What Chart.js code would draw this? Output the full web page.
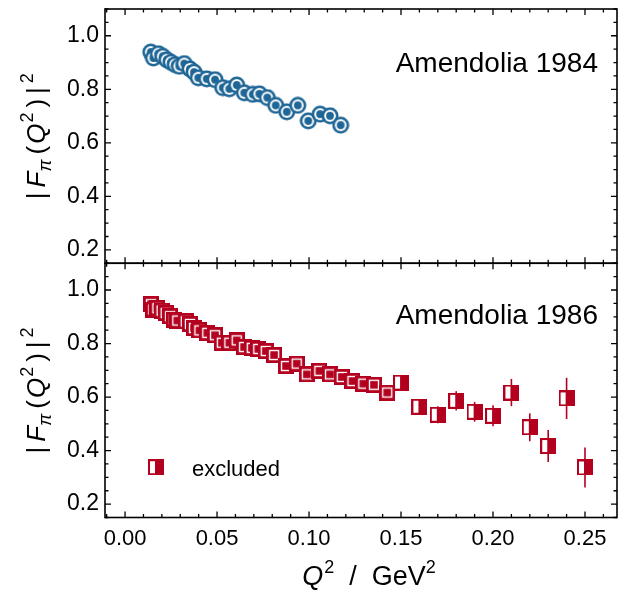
<!DOCTYPE html>
<html>
<head>
<meta charset="utf-8">
<script src="https://cdn.jsdelivr.net/npm/chart.js@4.4.1/dist/chart.umd.min.js"></script>
<style>
  html, body { margin: 0; padding: 0; background: #fff; }
  #chart { display: block; }
</style>
</head>
<body>
<canvas id="chart" width="632" height="597"></canvas>
<script>
// Amendolia 1984 (top panel)
const Q2_1984 = [0.0140, 0.0154, 0.0181, 0.0205, 0.0227, 0.0250, 0.0272, 0.0295, 0.0322, 0.0353,
                 0.0375, 0.0398, 0.0444, 0.0489, 0.0531, 0.0567, 0.0607, 0.0648, 0.0694, 0.0730,
                 0.0773, 0.0819, 0.0879, 0.0939, 0.0996, 0.1060, 0.1114, 0.1172];
const FF_1984 = [0.939, 0.917, 0.933, 0.923, 0.910, 0.901, 0.892, 0.886, 0.896, 0.876,
                 0.864, 0.843, 0.839, 0.836, 0.806, 0.802, 0.816, 0.787, 0.781, 0.783,
                 0.769, 0.740, 0.716, 0.740, 0.682, 0.707, 0.701, 0.666];

// Amendolia 1986 (bottom panel), points used in the fit
const Q2_1986 = [0.0141, 0.0154, 0.0176, 0.0199, 0.0221, 0.0245, 0.0266, 0.0284, 0.0330, 0.0353,
                 0.0375, 0.0404, 0.0447, 0.0489, 0.0526, 0.0567, 0.0607, 0.0647, 0.0689, 0.0724,
                 0.0765, 0.0810, 0.0875, 0.0933, 0.0988, 0.1056, 0.1114, 0.1178, 0.1236, 0.1295,
                 0.1353, 0.1425];
const FF_1986 = [0.947, 0.927, 0.932, 0.923, 0.914, 0.902, 0.889, 0.886, 0.883, 0.873,
                 0.858, 0.849, 0.840, 0.831, 0.803, 0.803, 0.812, 0.787, 0.784, 0.780,
                 0.772, 0.757, 0.716, 0.725, 0.685, 0.698, 0.685, 0.675, 0.660, 0.650,
                 0.646, 0.617];

// Amendolia 1986, excluded points with their errors
const Q2_EXCL  = [0.15, 0.16, 0.17, 0.18, 0.19, 0.20, 0.21, 0.22, 0.23, 0.24, 0.25];
const FF_EXCL  = [0.654, 0.564, 0.534, 0.586, 0.545, 0.530, 0.617, 0.487, 0.417, 0.595, 0.337];
const ERR_EXCL = [0.020, 0.024, 0.032, 0.036, 0.037, 0.039, 0.051, 0.052, 0.060, 0.077, 0.075];

const X_TICKS = [0, 0.05, 0.10, 0.15, 0.20, 0.25];
const Y_TICKS = [0.2, 0.4, 0.6, 0.8, 1.0];
const LABEL_TOP = 'Amendolia 1984';
const LABEL_BOT = 'Amendolia 1986';
const LABEL_EXCL = 'excluded';

const BLUE = '#1f6696';
const RED  = '#b3001e';
const FONT = '"Liberation Sans", Arial, Helvetica, sans-serif';

function makeMarker(size, draw) {
  const c = document.createElement('canvas');
  c.width = c.height = size;
  draw(c.getContext('2d'), size);
  return c;
}

// circle: blue ring, white ring, blue dot
const circleMarker = makeMarker(18, (g, s) => {
  const c = s / 2;
  [[8.5, BLUE], [5.9, '#fff'], [3.9, BLUE]].forEach(([r, col]) => {
    g.beginPath(); g.arc(c, c, r, 0, Math.PI * 2); g.fillStyle = col; g.fill();
  });
});

// square: red frame, thin white gap, red core
const squareMarker = makeMarker(16, (g) => {
  g.fillStyle = RED;  g.fillRect(0, 0, 16, 16);
  g.fillStyle = '#fff'; g.fillRect(2.8, 2.8, 10.4, 10.4);
  g.fillStyle = RED;  g.fillRect(4.2, 4.2, 7.6, 7.6);
});

// half-filled square for excluded points
const halfMarker = makeMarker(16, (g) => {
  g.fillStyle = RED;  g.fillRect(0, 0, 16, 16);
  g.fillStyle = '#fff'; g.fillRect(2, 2, 5, 12);
});

const toPts = (xs, ys) => xs.map((x, i) => ({ x, y: ys[i] }));

function drawParts(ctx, parts, cx, cy, rotate) {
  ctx.save();
  ctx.translate(cx, cy);
  if (rotate) ctx.rotate(-Math.PI / 2);
  let total = 0;
  parts.forEach(p => { ctx.font = p.font; p.w = ctx.measureText(p.t).width; total += p.w + (p.gap || 0); });
  let x = -total / 2;
  ctx.textAlign = 'left';
  ctx.textBaseline = 'alphabetic';
  ctx.fillStyle = '#000';
  parts.forEach(p => { ctx.font = p.font; ctx.fillText(p.t, x, p.dy || 0); x += p.w + (p.gap || 0); });
  ctx.restore();
}

const yTitle = [
  { t: '|', font: `26px ${FONT}`, gap: 5 },
  { t: 'F', font: `italic 26px ${FONT}`, gap: 0 },
  { t: 'π', font: `italic 18px ${FONT}`, dy: 6, gap: 5 },
  { t: '(', font: `26px ${FONT}`, gap: 2 },
  { t: 'Q', font: `italic 26px ${FONT}`, gap: 1 },
  { t: '2', font: `18px ${FONT}`, dy: -12, gap: 5 },
  { t: ')', font: `26px ${FONT}`, gap: 5 },
  { t: '|', font: `26px ${FONT}`, gap: 4 },
  { t: '2', font: `18px ${FONT}`, dy: -12 },
];

const xTitle = [
  { t: 'Q', font: `italic 27px ${FONT}`, gap: 1 },
  { t: '2', font: `18px ${FONT}`, dy: -12, gap: 0 },
  { t: '  /  GeV', font: `27px ${FONT}`, gap: 0 },
  { t: '2', font: `18px ${FONT}`, dy: -12 },
];

const framePlugin = {
  id: 'frame',
  beforeDatasetsDraw(chart) {
    const { ctx } = chart;
    const xs = chart.scales.x, ys = chart.scales.yBot;
    ctx.save();
    ctx.strokeStyle = RED;
    ctx.lineWidth = 1.6;
    Q2_EXCL.forEach((q, i) => {
      const px = xs.getPixelForValue(q);
      ctx.beginPath();
      ctx.moveTo(px, ys.getPixelForValue(FF_EXCL[i] - ERR_EXCL[i]));
      ctx.lineTo(px, ys.getPixelForValue(FF_EXCL[i] + ERR_EXCL[i]));
      ctx.stroke();
    });
    ctx.restore();
  },
  afterDraw(chart) {
    const { ctx, chartArea: a } = chart;
    const xs = chart.scales.x;
    ctx.save();
    ctx.strokeStyle = '#000';
    ['yTop', 'yBot'].forEach(id => {
      const ys = chart.scales[id];
      const top = ys.top, bot = ys.bottom;
      ctx.lineWidth = 1.3;
      // x ticks (major every 0.05, minor every 0.01), inward on both edges
      for (let k = -1; k <= 27; k++) {
        const v = k / 100;
        if (v < xs.min || v > xs.max) continue;
        const px = xs.getPixelForValue(v);
        const len = k % 5 === 0 ? 6 : 3.5;
        ctx.beginPath();
        ctx.moveTo(px, bot); ctx.lineTo(px, bot - len);
        ctx.moveTo(px, top); ctx.lineTo(px, top + len);
        ctx.stroke();
      }
      // y ticks (major every 0.2, minor every 0.05)
      for (let k = 3; k <= 22; k++) {
        const v = k / 20;
        if (v < ys.min || v > ys.max) continue;
        const py = ys.getPixelForValue(v);
        const len = k % 4 === 0 ? 6 : 3.5;
        ctx.beginPath();
        ctx.moveTo(a.left, py); ctx.lineTo(a.left + len, py);
        ctx.moveTo(a.right, py); ctx.lineTo(a.right - len, py);
        ctx.stroke();
      }
      ctx.lineWidth = 1.6;
      ctx.strokeRect(a.left, top, a.right - a.left, bot - top);
      drawParts(ctx, yTitle, 45, (top + bot) / 2, true);
    });

    // panel labels
    ctx.fillStyle = '#000';
    ctx.textAlign = 'right';
    ctx.textBaseline = 'alphabetic';
    ctx.font = `28px ${FONT}`;
    ctx.fillText(LABEL_TOP, a.right - 19, chart.scales.yTop.top + 63);
    ctx.fillText(LABEL_BOT, a.right - 19, chart.scales.yBot.top + 61);

    // legend for excluded points
    const ys = chart.scales.yBot;
    ctx.drawImage(halfMarker, 148, ys.top + 196);
    ctx.textAlign = 'left';
    ctx.font = `22px ${FONT}`;
    ctx.fillText(LABEL_EXCL, 192, ys.top + 213);

    drawParts(ctx, xTitle, 369, 585, false);
    ctx.restore();
  }
};

const yScale = () => ({
  type: 'linear',
  position: 'left',
  stack: 'panels',
  stackWeight: 1,
  min: 0.15,
  max: 1.1,
  afterFit: s => { s.width = 105; s.paddingTop = 0; s.paddingBottom = 0; },
  afterBuildTicks: s => { s.ticks = Y_TICKS.map(v => ({ value: v })); },
  grid: { display: false, drawTicks: false },
  border: { display: false },
  ticks: {
    color: '#000',
    padding: 6,
    font: { family: FONT, size: 23 },
    callback: v => v.toFixed(1),
  },
});

new Chart(document.getElementById('chart'), {
  type: 'scatter',
  data: {
    datasets: [
      { label: LABEL_TOP, data: toPts(Q2_1984, FF_1984), yAxisID: 'yTop',
        pointStyle: circleMarker, pointRadius: 8 },
      { label: LABEL_BOT, data: toPts(Q2_1986, FF_1986), yAxisID: 'yBot',
        pointStyle: squareMarker, pointRadius: 8 },
      { label: LABEL_EXCL, data: toPts(Q2_EXCL, FF_EXCL), yAxisID: 'yBot',
        pointStyle: halfMarker, pointRadius: 8 },
    ],
  },
  options: {
    responsive: false,
    animation: false,
    layout: { padding: { left: 0, right: 15, top: 5.5, bottom: 0 } },
    scales: {
      x: {
        type: 'linear',
        position: 'bottom',
        min: -0.0109,
        max: 0.2674,
        afterFit: s => { s.height = 79.5; s.paddingLeft = 0; s.paddingRight = 0; },
        afterBuildTicks: s => { s.ticks = X_TICKS.map(v => ({ value: v })); },
        grid: { display: false, drawTicks: false },
        border: { display: false },
        ticks: {
          color: '#000',
          padding: 8,
          maxRotation: 0,
          font: { family: FONT, size: 22 },
          callback: v => v.toFixed(2),
        },
      },
      yBot: yScale(),
      yTop: yScale(),
    },
    plugins: {
      legend: { display: false },
      tooltip: { enabled: false },
    },
  },
  plugins: [framePlugin],
});
</script>
</body>
</html>
